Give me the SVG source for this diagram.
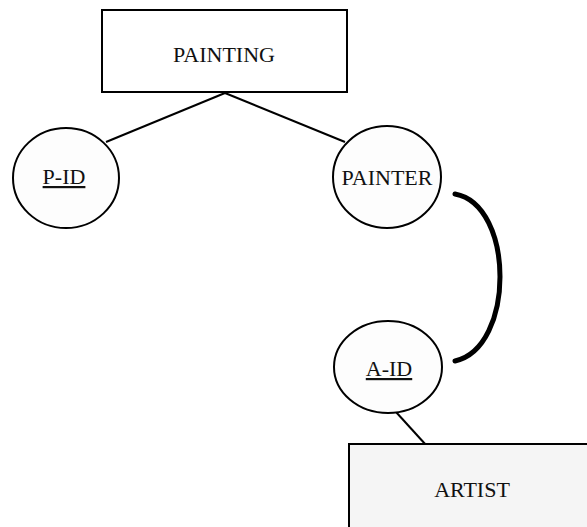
<svg xmlns="http://www.w3.org/2000/svg" width="587" height="527" viewBox="0 0 587 527">
<style>
.box{fill:#ffffff;stroke:#000;stroke-width:2}
.ell{fill:#fdfdfd;stroke:#000;stroke-width:2}
.lbl{font-family:"Liberation Serif","Times New Roman",serif;font-size:22px;fill:#111;text-anchor:middle}
.key{text-decoration:underline}
.conn{fill:none;stroke:#000;stroke-width:2}
.thick{fill:none;stroke:#000;stroke-width:5;stroke-linecap:round}
</style>
<rect width="587" height="527" fill="#ffffff"/>
<g id="connectors">
<line class="conn" x1="225" y1="93" x2="106" y2="142"/>
<line class="conn" x1="225" y1="93" x2="345" y2="142"/>
<line class="conn" x1="396" y1="412" x2="426" y2="445"/>
<path class="thick" d="M455,194 C515,205 515,348 455,361"/>
</g>
<g id="painting">
<rect class="box" x="102" y="10" width="245" height="82"/>
<text class="lbl" x="224" y="62">PAINTING</text>
</g>
<g id="p-id">
<ellipse class="ell" cx="66" cy="178" rx="53" ry="50"/>
<text class="lbl key" x="64" y="184">P-ID</text>
</g>
<g id="painter">
<ellipse class="ell" cx="387" cy="177" rx="54" ry="51"/>
<text class="lbl" x="387" y="185">PAINTER</text>
</g>
<g id="a-id">
<ellipse class="ell" cx="388" cy="367" rx="54" ry="46"/>
<text class="lbl key" x="389" y="376">A-ID</text>
</g>
<g id="artist">
<rect class="box" x="349" y="444" width="260" height="100" style="fill:#f5f5f5"/>
<text class="lbl" x="472" y="497">ARTIST</text>
</g>
</svg>
